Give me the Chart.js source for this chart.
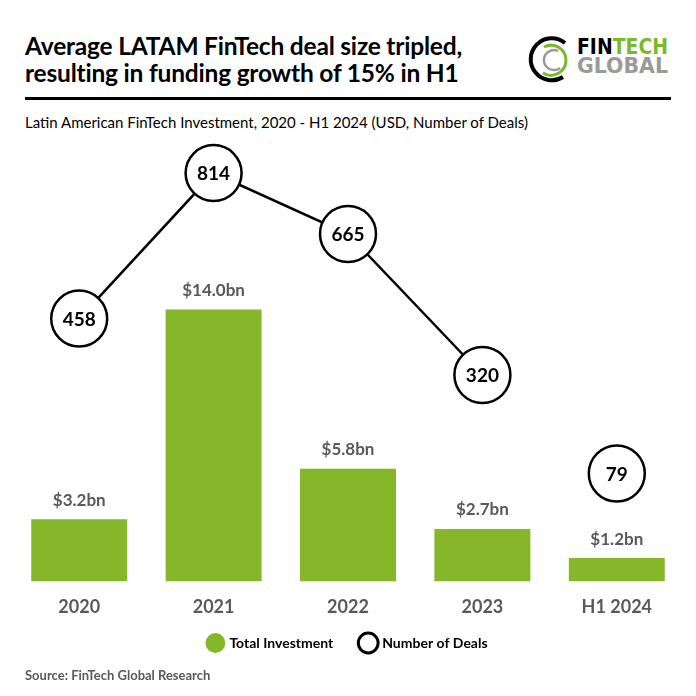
<!DOCTYPE html>
<html>
<head>
<meta charset="utf-8">
<script src="https://cdn.jsdelivr.net/npm/chart.js@4.4.1/dist/chart.umd.min.js"></script>
<style>
  html,body{margin:0;padding:0;background:#fff;}
  #wrap{position:relative;width:696px;height:696px;overflow:hidden;font-family:Lato,"Open Sans",sans-serif;}
  #c{position:absolute;left:0;top:0;}
  .title{position:absolute;left:25px;top:32px;font-weight:700;font-size:24.5px;line-height:27px;color:#000;letter-spacing:-0.2px;}
  .rule{position:absolute;left:25px;top:97px;width:646px;height:3px;background:#000;}
  .sub{position:absolute;left:25px;top:113px;font-size:15px;color:#000;}
  .src{position:absolute;left:25px;top:667px;font-size:13px;font-weight:700;color:#595959;}
  .logo{position:absolute;left:528px;top:33px;}
</style>
</head>
<body>
<div id="wrap">
  <div class="title">Average LATAM FinTech deal size tripled,<br>resulting in funding growth of 15% in H1</div>
  <svg class="logo" width="150" height="52" viewBox="0 0 150 52">
    <path d="M 37 10 A 21 21 0 1 0 35 44" fill="none" stroke="#000" stroke-width="4"/>
    <path d="M 16 14 A 15 15 0 1 1 15 40" fill="none" stroke="#7ab929" stroke-width="3"/>
    <path d="M 30 18 A 10 10 0 1 0 32 35" fill="none" stroke="#9a9a9a" stroke-width="2.5"/>
    <text x="49" y="21" font-family="DejaVu Sans" font-weight="700" font-size="22" fill="#000" textLength="91" lengthAdjust="spacingAndGlyphs">FIN<tspan fill="#7ab929">TECH</tspan></text>
    <text x="49" y="40" font-family="DejaVu Sans" font-weight="700" font-size="21" fill="#9a9a9a" textLength="91" lengthAdjust="spacingAndGlyphs">GLOBAL</text>
  </svg>
  <div class="rule"></div>
  <div class="sub">Latin American FinTech Investment, 2020 - H1 2024 (USD, Number of Deals)</div>
  <canvas id="c" width="696" height="696"></canvas>
  <div class="src">Source: FinTech Global Research</div>
</div>
<script>
const categories = ["2020", "2021", "2022", "2023", "H1 2024"];
const investmentBn = [3.2, 14.0, 5.8, 2.7, 1.2];
const investmentLabels = ["$3.2bn", "$14.0bn", "$5.8bn", "$2.7bn", "$1.2bn"];
const numberOfDeals = [458, 814, 665, 320, 79];

const GREEN = "#86b62a";
const GREY = "#595959";

const labelPlugin = {
  id: "labels",
  afterLayout(chart) {
    const lg = chart.legend;
    if (lg) {
      const h = lg.bottom - lg.top;
      lg.top = 608;
      lg.bottom = 608 + h;
    }
  },
  afterDatasetsDraw(chart) {
    const ctx = chart.ctx;
    ctx.save();
    ctx.textAlign = "center";
    ctx.textBaseline = "middle";
    const barMeta = chart.getDatasetMeta(1);
    ctx.font = "700 17px Lato";
    ctx.fillStyle = GREY;
    barMeta.data.forEach((el, i) => {
      ctx.fillText(investmentLabels[i], el.x, el.y - 19);
    });
    const lineMeta = chart.getDatasetMeta(0);
    ctx.font = "700 19px Lato";
    ctx.fillStyle = "#000";
    lineMeta.data.forEach((el, i) => {
      ctx.fillText(String(numberOfDeals[i]), el.x, el.y + 1);
    });
    ctx.restore();
  }
};

new Chart(document.getElementById("c"), {
  data: {
    labels: categories,
    datasets: [
      {
        type: "line",
        label: "Number of Deals",
        data: numberOfDeals,
        yAxisID: "y2",
        order: 0,
        borderColor: "#000",
        borderWidth: 2.5,
        pointRadius: 28,
        pointHoverRadius: 28,
        pointBackgroundColor: "#fff",
        pointBorderColor: "#000",
        pointBorderWidth: 2.5,
        clip: false,
        segment: {
          borderColor: c => c.p1DataIndex === 4 ? "rgba(0,0,0,0)" : "#000"
        }
      },
      {
        type: "bar",
        label: "Total Investment",
        data: investmentBn,
        yAxisID: "y",
        order: 1,
        backgroundColor: GREEN,
        barPercentage: 0.714,
        categoryPercentage: 1.0
      }
    ]
  },
  options: {
    responsive: false,
    animation: false,
    events: [],
    layout: { autoPadding: false, padding: { top: 140, left: 12, right: 12, bottom: 11 } },
    plugins: {
      tooltip: { enabled: false },
      legend: {
        position: "bottom",
        labels: {
          usePointStyle: true,
          boxWidth: 14,
          boxHeight: 14,
          padding: 28,
          color: "#000",
          font: { family: "Lato", weight: "700", size: 14 },
          generateLabels: () => [
            { text: "Total Investment", pointStyle: "circle", fillStyle: GREEN, strokeStyle: GREEN, lineWidth: 0, fontColor: "#000" },
            { text: "Number of Deals", pointStyle: "circle", fillStyle: "#fff", strokeStyle: "#000", lineWidth: 3, fontColor: "#000" }
          ]
        }
      }
    },
    scales: {
      x: {
        grid: { display: false, drawTicks: false },
        border: { display: false },
        ticks: { color: GREY, font: { family: "Lato", weight: "700", size: 18 }, padding: 15, maxRotation: 0 },
        afterFit: s => { s.paddingLeft = 0; s.paddingRight = 0; }
      },
      y: { display: false, min: 0, max: 22.73 },
      y2: { display: false, min: -185, max: 895 }
    }
  },
  plugins: [labelPlugin]
});
</script>
</body>
</html>
